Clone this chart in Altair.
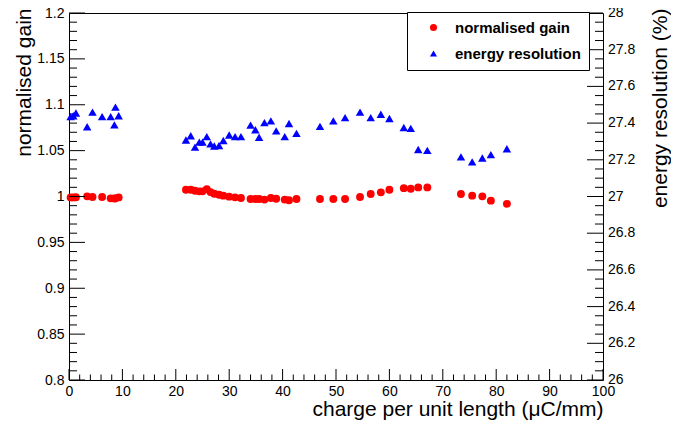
import altair as alt
import pandas as pd

# ---- data ----
charge = [0.3, 0.8, 1.3, 3.4, 4.4, 6.2, 7.8, 8.5, 8.7, 9.3,
          21.9, 22.8, 23.6, 24.4, 25.0, 25.8, 26.5, 27.2, 28.1, 28.9,
          30.0, 31.1, 32.2, 34.0, 34.9, 35.6, 36.6, 37.8, 38.8,
          40.4, 41.2, 42.6, 47.0, 49.5, 51.7,
          54.5, 56.5, 58.4, 60.0, 62.7, 64.0, 65.4, 67.1,
          73.4, 75.5, 77.4, 79.0, 82.0]
gain = [0.999, 0.999, 0.9992, 1.0002, 0.9995, 0.9995, 0.998, 0.9978, 0.998, 0.999,
        1.0073, 1.0073, 1.0062, 1.0056, 1.0056, 1.0080, 1.0048, 1.0030, 1.0019, 1.0009,
        0.9998, 0.9991, 0.9984, 0.9973, 0.9973, 0.9973, 0.9966, 0.9984, 0.9976,
        0.9966, 0.9959, 0.9973, 0.9973, 0.9973, 0.9973,
        0.9995, 1.0027, 1.0045, 1.0073, 1.0091, 1.0084, 1.0099, 1.0099,
        1.0027, 1.0009, 1.0002, 0.9955, 0.9920]
resolution = [27.435, 27.44, 27.455, 27.38, 27.46, 27.435, 27.435, 27.39, 27.487, 27.44,
              27.308, 27.331, 27.269, 27.296, 27.296, 27.326, 27.287, 27.275, 27.278, 27.305,
              27.335, 27.326, 27.326, 27.389, 27.364, 27.323, 27.403, 27.412, 27.358,
              27.326, 27.398, 27.344, 27.382, 27.412, 27.43,
              27.46, 27.43, 27.448, 27.425, 27.376, 27.371, 27.256, 27.251,
              27.216, 27.189, 27.210, 27.228, 27.260]

series_names = ["normalised gain", "energy resolution"]
series_colors = ["#ff0000", "#0000ff"]
series_shapes = ["circle", "triangle-up"]

x_major = list(range(0, 101, 10))
x_minor = [v for v in range(0, 101, 2) if v % 10 != 0]
g_major = [round(0.8 + 0.05 * i, 2) for i in range(9)]
g_minor = [round(0.8 + 0.01 * i, 2) for i in range(41) if i % 5 != 0]
r_major = [round(26 + 0.2 * i, 1) for i in range(11)]
r_labels = ["26", "26.2", "26.4", "26.6", "26.8", "27", "27.2", "27.4", "27.6", "27.8", "28"]
r_minor = [round(26 + 0.05 * i, 2) for i in range(41) if i % 4 != 0]

df_gain = pd.DataFrame({"x": charge, "gain": gain, "series": series_names[0]})
df_res = pd.DataFrame({"x": charge, "res": resolution, "series": series_names[1]})

W, H = 534, 367
FONT = "Liberation Sans"

xscale = alt.Scale(domain=[0, 100], nice=False, zero=False)
gscale = alt.Scale(domain=[0.8, 1.2], nice=False, zero=False)
rscale = alt.Scale(domain=[26, 28], nice=False, zero=False)

legend = alt.Legend(orient="none", legendX=338, legendY=-1, strokeColor="black",
                    fillColor="white", padding=8, labelFont=FONT, labelFontSize=15,
                    labelFontWeight="bold", labelColor="black", symbolSize=50,
                    symbolStrokeWidth=0, rowPadding=10, symbolOffset=11, labelOffset=14)
color = alt.Color("series:N", title=None,
                  scale=alt.Scale(domain=series_names, range=series_colors), legend=legend)
shape = alt.Shape("series:N", title=None,
                  scale=alt.Scale(domain=series_names, range=series_shapes), legend=legend)

x_axis = alt.Axis(values=x_major, format="d", ticks=False, domain=False, grid=False,
                  labelPadding=4, labelOverlap=False, labelFlush=False,
                  title="charge per unit length (μC/mm)", titleX=534, titleY=35,
                  titleAlign="right", titleBaseline="alphabetic")
g_axis = alt.Axis(orient="left", values=g_major, format="~g", ticks=False, domain=False,
                  grid=False, labelPadding=5, labelOverlap=False, labelFlush=False,
                  title="normalised gain", titleAngle=270, titleAlign="right",
                  titleBaseline="alphabetic", titleX=-39, titleY=-5)
r_axis = alt.Axis(orient="right", values=r_major, labels=False, ticks=False, domain=False,
                  grid=False, title="energy resolution (%)", titleAngle=270, titleAlign="right",
                  titleBaseline="alphabetic", titleX=63, titleY=-5)

gain_pts = alt.Chart(df_gain).mark_point(filled=True, opacity=1, size=62, strokeWidth=0).encode(
    x=alt.X("x:Q", scale=xscale, axis=x_axis),
    y=alt.Y("gain:Q", scale=gscale, axis=g_axis),
    color=color, shape=shape)

def rules(df, **enc):
    return alt.Chart(df).mark_rule(color="black", strokeWidth=1).encode(**enc)

lt_major = rules(pd.DataFrame({"gain": g_major}), y=alt.Y("gain:Q", scale=gscale),
                 x=alt.value(0), x2=alt.value(16))
lt_minor = rules(pd.DataFrame({"gain": g_minor}), y=alt.Y("gain:Q", scale=gscale),
                 x=alt.value(0), x2=alt.value(8))
bt_major = rules(pd.DataFrame({"x": x_major}), x=alt.X("x:Q", scale=xscale),
                 y=alt.value(H), y2=alt.value(H - 11))
bt_minor = rules(pd.DataFrame({"x": x_minor}), x=alt.X("x:Q", scale=xscale),
                 y=alt.value(H), y2=alt.value(H - 5.5))

res_pts = alt.Chart(df_res).mark_point(filled=True, opacity=1, size=72, strokeWidth=0).encode(
    x=alt.X("x:Q", scale=xscale),
    y=alt.Y("res:Q", scale=rscale, axis=r_axis),
    color=color, shape=shape)
rt_major = rules(pd.DataFrame({"res": r_major}), y=alt.Y("res:Q", scale=rscale),
                 x=alt.value(W), x2=alt.value(W - 16))
rt_minor = rules(pd.DataFrame({"res": r_minor}), y=alt.Y("res:Q", scale=rscale),
                 x=alt.value(W), x2=alt.value(W - 8))
rt_text = alt.Chart(pd.DataFrame({"res": r_major, "label": r_labels})).mark_text(
    align="left", baseline="middle", font=FONT, fontSize=14, color="black").encode(
    y=alt.Y("res:Q", scale=rscale), x=alt.value(W + 5), text="label:N")

left = alt.layer(gain_pts, lt_major, lt_minor, bt_major, bt_minor)
right = alt.layer(res_pts, rt_major, rt_minor, rt_text)

chart = alt.layer(left, right).resolve_scale(y="independent").properties(
    width=W, height=H,
    autosize=alt.AutoSizeParams(type="none"),
    padding={"left": 61, "top": 5, "right": 68, "bottom": 40},
).configure_view(stroke="black", strokeWidth=1).configure_axis(
    labelFont=FONT, titleFont=FONT, labelFontSize=14, titleFontSize=21,
    titleFontWeight="normal", labelColor="black", titleColor="black")

chart.save("out.html", embed_options={"renderer": "svg", "actions": False})
